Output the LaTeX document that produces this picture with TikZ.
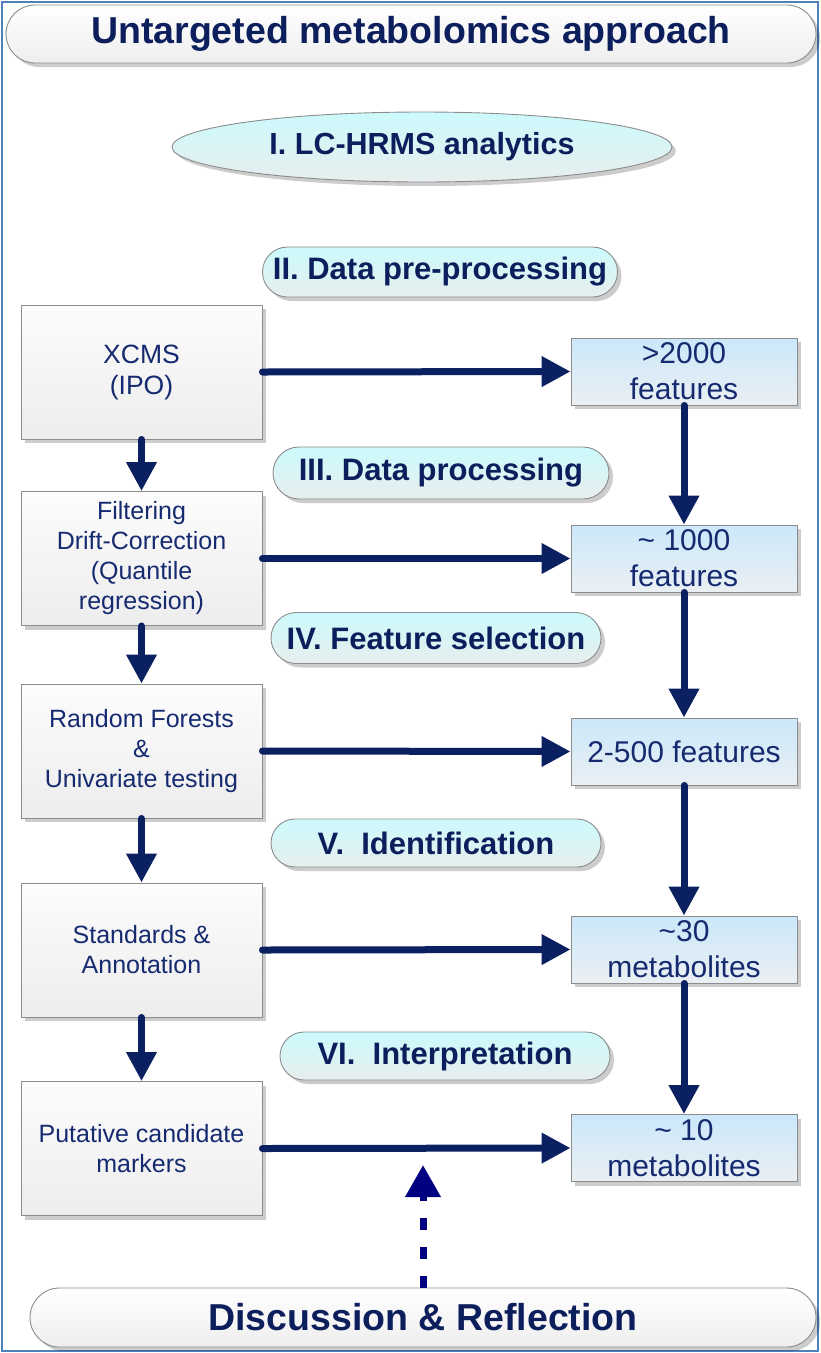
\documentclass[tikz,border=0pt]{standalone}
\usepackage{fontspec}
\setmainfont{Liberation Sans}
\usetikzlibrary{shadows,arrows.meta,shapes.geometric,shapes.misc}
\definecolor{headtxt}{RGB}{12,31,92}
\definecolor{boxtxt}{RGB}{22,42,112}
\definecolor{arr}{RGB}{10,32,96}
\definecolor{dotc}{RGB}{0,0,128}
\definecolor{frame}{RGB}{79,129,189}
\definecolor{boxline}{RGB}{140,140,140}
\definecolor{lboxtop}{RGB}{252,252,252}
\definecolor{lboxbot}{RGB}{237,237,237}
\definecolor{rboxtop}{RGB}{203,232,250}
\definecolor{rboxbot}{RGB}{234,239,243}
\definecolor{pilltop}{RGB}{204,250,252}
\definecolor{pillbot}{RGB}{232,238,238}
\definecolor{titletop}{RGB}{255,255,255}
\definecolor{titlebot}{RGB}{238,238,238}
\begin{document}
\begin{tikzpicture}[x=1pt,y=-1pt,
  shad/.style={drop shadow={shadow xshift=4pt,shadow yshift=-4pt,opacity=0.2,fill=black}},
  lbox/.style={shad,draw=boxline,line width=0.9pt,top color=lboxtop,bottom color=lboxbot,
    minimum width=241pt,minimum height=134pt,inner sep=0pt,align=center,text=boxtxt,
    font=\fontsize{25}{30}\selectfont},
  rbox/.style={shad,draw=boxline,line width=0.9pt,top color=rboxtop,bottom color=rboxbot,
    minimum width=226pt,minimum height=67pt,inner sep=0pt,align=center,text=boxtxt,
    font=\fontsize{30}{36}\selectfont},
  pill/.style={shad,rounded rectangle,draw=boxline,line width=0.9pt,top color=pilltop,bottom color=pillbot,
    inner sep=0pt,align=center,text=headtxt,font=\bfseries\fontsize{31}{36}\selectfont},
  bigpill/.style={shad,rounded rectangle,draw=boxline,line width=0.9pt,top color=titletop,bottom color=titlebot,
    inner sep=0pt,align=center,text=headtxt,font=\bfseries\fontsize{37.5}{40}\selectfont},
  ell/.style={shad,ellipse,draw=boxline,line width=0.9pt,top color=pilltop,bottom color=pillbot,
    inner sep=0pt,minimum width=500pt,minimum height=70pt,text=headtxt,font=\bfseries\fontsize{30.5}{36}\selectfont},
  flow/.style={draw=arr,line width=7pt,line cap=round,-{Triangle[length=29pt,width=29pt]}},
  dotflow/.style={draw=dotc,line width=7pt,dash pattern=on 12pt off 17pt,-{Triangle[length=32pt,width=34pt]}},
]
\useasboundingbox (0,0) rectangle (820,1353);
\draw[frame,line width=1.6pt] (2,2) rectangle (818,1351);

\node[bigpill,minimum width=810pt,minimum height=58pt] (title) at (411,34) {Untargeted metabolomics approach};
\node[ell] (lc) at (422,147) {I. LC-HRMS analytics};

\node[pill,minimum width=355pt,minimum height=50pt] (p2) at (440,272) {II. Data pre-processing};
\node[pill,minimum width=336pt,minimum height=52pt] (p3) at (441,473) {III. Data processing};
\node[pill,minimum width=330pt,minimum height=51pt] (p4) at (436,638) {IV. Feature selection};
\node[pill,minimum width=330pt,minimum height=48pt] (p5) at (436,843) {V.~~Identification};
\node[pill,minimum width=330pt,minimum height=48pt] (p6) at (445,1056) {VI.~~Interpretation};

\node[lbox,font=\fontsize{26.5}{31}\selectfont] (l1) at (141.5,372) {XCMS\\(IPO)};
\node[lbox] (l2) at (141.5,558.5) {Filtering\\Drift-Correction\\(Quantile\\regression)};
\node[lbox] (l3) at (141.5,751) {Random Forests\\\&\\Univariate testing};
\node[lbox] (l4) at (141.5,950) {Standards \&\\Annotation};
\node[lbox] (l5) at (141.5,1148.5) {Putative candidate\\markers};

\node[rbox] (r1) at (684,371.5) {>2000\\features};
\node[rbox] (r2) at (684,558.5) {\textasciitilde\ 1000\\features};
\node[rbox] (r3) at (684,751.5) {2-500 features};
\node[rbox] (r4) at (684,949.5) {\textasciitilde30\\metabolites};
\node[rbox] (r5) at (684,1148) {\textasciitilde\ 10\\metabolites};

\node[bigpill,minimum width=786pt,minimum height=59pt] (disc) at (423,1317.5) {Discussion \& Reflection};

\draw[flow] (l1.east) -- (r1.west);
\draw[flow] (l2.east) -- (r2.west);
\draw[flow] (l3.east) -- (r3.west);
\draw[flow] (l4.east) -- (r4.west);
\draw[flow] (l5.east) -- (r5.west);

\draw[flow] (l1.south) -- (l2.north);
\draw[flow] (l2.south) -- (l3.north);
\draw[flow] (l3.south) -- (l4.north);
\draw[flow] (l4.south) -- (l5.north);

\draw[flow] (r1.south) -- (r2.north);
\draw[flow] (r2.south) -- (r3.north);
\draw[flow] (r3.south) -- (r4.north);
\draw[flow] (r4.south) -- (r5.north);

\coordinate (dtip) at (423,1165);
\draw[dotflow] (disc.north) -- (dtip);
\end{tikzpicture}
\end{document}
